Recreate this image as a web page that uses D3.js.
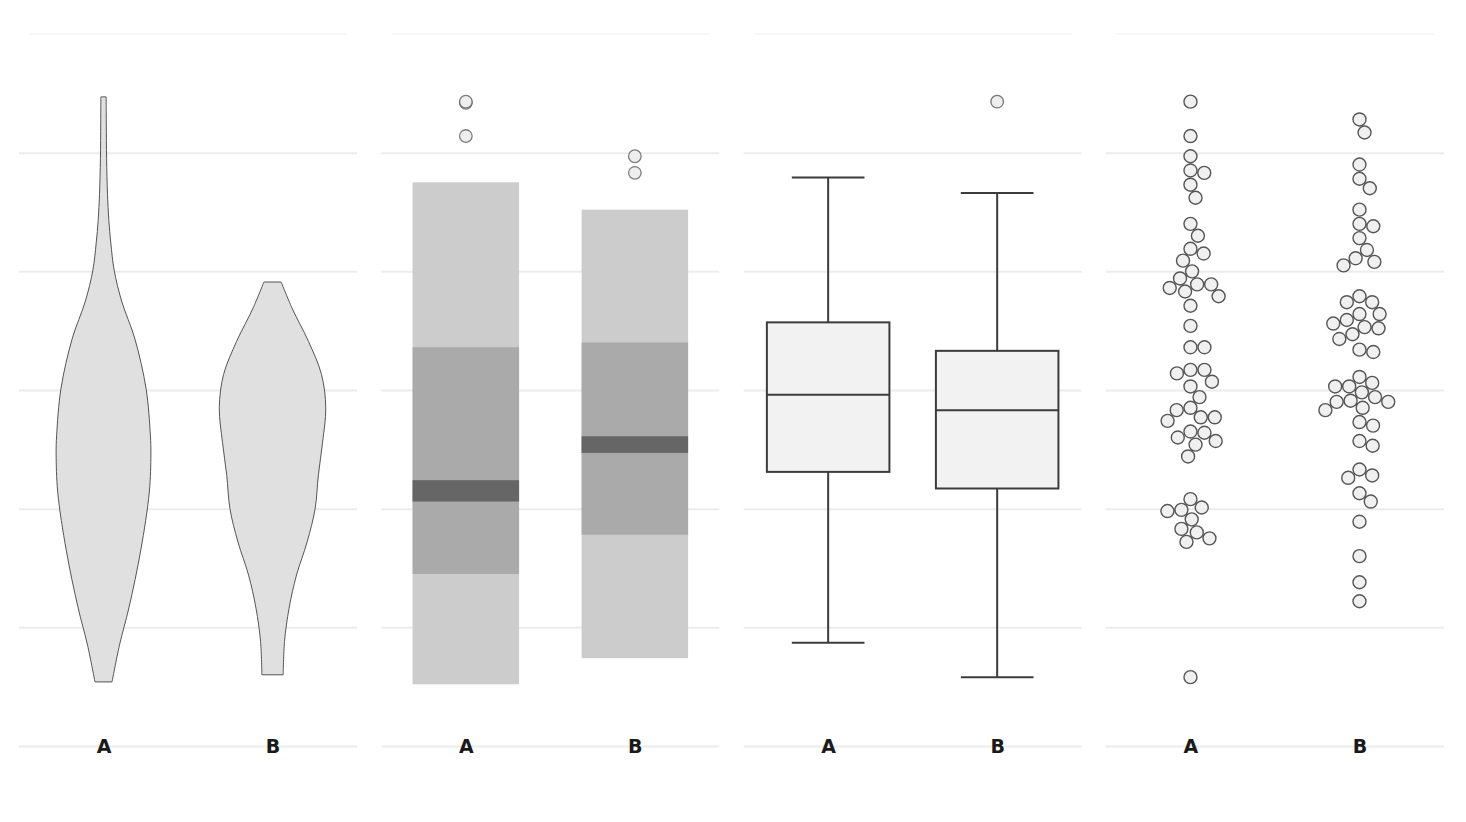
<!DOCTYPE html>
<html>
<head>
<meta charset="utf-8">
<script src="https://cdn.jsdelivr.net/npm/d3@7"></script>
<style>
  body { margin: 0; background: #ffffff; }
  svg { display: block; }
</style>
</head>
<body>
<div class="chart"></div>
<script>
// ************************ DATA ************************

const categories = ["A", "B"]
const gridTicks = [0, 10, 20, 30, 40, 50]
const topTick = 60

// violin: value grid and relative density (half width)
const violinValuesA = [5.4, 8.5, 11.7, 16.5, 21.4, 24.6, 26.2, 30.1, 34.3, 37.5, 40.1, 42.4, 44.3, 46.5, 49.5, 52.5, 54.7]
const violinDensityA = [0.16, 0.30, 0.48, 0.70, 0.86, 0.89, 0.88, 0.80, 0.59, 0.34, 0.20, 0.137, 0.10, 0.075, 0.058, 0.052, 0.05]
const violinValuesB = [6.0, 8.8, 11.6, 14.4, 17.2, 20.0, 22.8, 25.6, 28.5, 31.3, 34.1, 36.9, 39.1]
const violinDensityB = [0.20, 0.225, 0.31, 0.45, 0.65, 0.80, 0.86, 0.94, 1.0, 0.92, 0.675, 0.366, 0.163]

// letter-value boxes [low, high], outer to inner
const lvBoxesA = [[5.2, 47.5], [14.5, 33.6], [20.6, 22.4]]
const lvBoxesB = [[7.4, 45.2], [17.8, 34.0], [24.7, 26.1]]
const lvOutliersA = [54.2, 54.3, 51.4]
const lvOutliersB = [49.7, 48.3]

// box plot [lower whisker, q1, median, q3, upper whisker]
const boxStatsA = [8.7, 23.1, 29.6, 35.7, 47.9]
const boxStatsB = [5.8, 21.7, 28.3, 33.3, 46.6]
const boxOutliersA = []
const boxOutliersB = [54.3]

// swarm values
const swarmA = [54.3, 51.4, 49.7, 48.5, 48.3, 47.3, 46.2, 44.0, 43.0, 41.9, 41.5, 40.9, 40.0, 39.4, 38.9, 38.9,
  38.6, 38.3, 37.9, 37.1, 35.4, 33.6, 33.6, 31.7, 31.4, 31.7, 30.7, 30.3, 29.4, 28.3, 28.5, 27.7, 27.7, 27.4,
  26.5, 26.4, 26.0, 25.7, 25.4, 24.4, 20.8, 20.1, 19.8, 19.9, 19.1, 18.3, 18.0, 17.5, 17.2, 5.8]
const swarmB = [52.8, 51.7, 49.0, 47.8, 47.0, 45.2, 44.0, 43.8, 42.8, 41.8, 41.1, 40.8, 40.5, 37.9, 37.4, 37.4,
  36.4, 36.4, 35.9, 35.3, 35.2, 35.6, 34.7, 34.3, 33.4, 33.2, 31.1, 30.3, 30.6, 29.8, 30.3, 29.4, 29.0, 28.5,
  28.3, 29.0, 29.1, 27.0, 27.3, 25.7, 25.3, 23.3, 22.6, 22.8, 21.3, 20.6, 18.9, 16.0, 13.8, 12.2]

// ************************ LAYOUT ************************

const width = 1466
const height = 822

const svg = d3.select(".chart")
  .append("svg")
  .attr("width", width)
  .attr("height", height)

// y-scale shared by all panels
const y = d3.scaleLinear()
  .domain([0, topTick])
  .range([746, 34])

// one band per panel
const panels = d3.scaleBand()
  .domain([0, 1, 2, 3])
  .range([19, 1444])
  .paddingInner(0.067)

const makeX = (i) => d3.scalePoint()
  .domain(categories)
  .range([panels(i), panels(i) + panels.bandwidth()])
  .padding(0.5)

// gridlines for each panel
const drawFrame = (i) => {
  const x = makeX(i)
  const g = svg.append("g")

  // faint top line
  g.append("line")
    .attr("x1", panels(i) + 10)
    .attr("x2", panels(i) + panels.bandwidth() - 10)
    .attr("y1", y(topTick))
    .attr("y2", y(topTick))
    .attr("stroke", "#f4f4f4")
    .attr("stroke-width", 1.5)

  const grid = d3.axisLeft(y)
    .tickValues(gridTicks)
    .tickSize(-panels.bandwidth())
    .tickFormat("")
  g.append("g")
    .attr("transform", "translate(" + panels(i) + ",0)")
    .call(grid)
    .call((s) => s.select(".domain").remove())
    .selectAll("line")
    .attr("stroke", "#ececec")
    .attr("stroke-width", 2)

  return x
}

// category labels sit on the bottom gridline
const labels = (i, x) => {
  svg.append("g")
    .attr("transform", "translate(0," + y(0) + ")")
    .call(d3.axisBottom(x).tickSize(0).tickPadding(0))
    .call((s) => s.select(".domain").remove())
    .selectAll("text")
    .attr("dy", "0.36em")
    .attr("fill", "#1a1a1a")
    .style("font-family", "'DejaVu Sans', sans-serif")
    .style("font-size", "19px")
    .style("font-weight", "bold")
}

// ************************ PANEL 1: VIOLIN ************************

{
  const x = drawFrame(0)
  const w = d3.scaleLinear().domain([0, 1]).range([0, x.step() * 0.315])
  const violins = [
    [categories[0], violinValuesA, violinDensityA],
    [categories[1], violinValuesB, violinDensityB]
  ]
  violins.forEach(([cat, vals, dens]) => {
    const pts = vals.map((v, i) => [v, dens[i]])
    const area = d3.area()
      .y((d) => y(d[0]))
      .x0((d) => x(cat) - w(d[1]))
      .x1((d) => x(cat) + w(d[1]))
      .curve(d3.curveCatmullRom)
    svg.append("path")
      .datum(pts)
      .attr("d", area)
      .attr("fill", "#e0e0e0")
      .attr("stroke", "#555555")
      .attr("stroke-width", 1)
  })
  labels(0, x)
}

// ************************ PANEL 2: LETTER VALUES ************************

{
  const x = drawFrame(1)
  const bw = x.step() * 0.63
  const shades = ["#cccccc", "#aaaaaa", "#666666"]
  const sets = [
    [categories[0], lvBoxesA, lvOutliersA],
    [categories[1], lvBoxesB, lvOutliersB]
  ]
  sets.forEach(([cat, boxes, outs]) => {
    svg.selectAll(null)
      .data(boxes)
      .enter()
      .append("rect")
      .attr("x", x(cat) - bw / 2)
      .attr("width", bw)
      .attr("y", (d) => y(d[1]))
      .attr("height", (d) => y(d[0]) - y(d[1]))
      .attr("fill", (d, i) => shades[i])
    svg.selectAll(null)
      .data(outs)
      .enter()
      .append("circle")
      .attr("cx", x(cat))
      .attr("cy", (d) => y(d))
      .attr("r", 6.3)
      .attr("fill", "#eeeeee")
      .attr("stroke", "#555555")
      .attr("stroke-opacity", 0.75)
      .attr("stroke-width", 1.3)
  })
  labels(1, x)
}

// ************************ PANEL 3: BOX PLOT ************************

{
  const x = drawFrame(2)
  const bw = x.step() * 0.725
  const cw = x.step() * 0.43
  const sets = [
    [categories[0], boxStatsA, boxOutliersA],
    [categories[1], boxStatsB, boxOutliersB]
  ]
  sets.forEach(([cat, s, outs]) => {
    const g = svg.append("g")
      .attr("stroke", "#3c3c3c")
      .attr("stroke-width", 2)
    // whisker
    g.append("line")
      .attr("x1", x(cat)).attr("x2", x(cat))
      .attr("y1", y(s[0])).attr("y2", y(s[4]))
    // caps
    g.selectAll(null)
      .data([s[0], s[4]])
      .enter()
      .append("line")
      .attr("x1", x(cat) - cw / 2)
      .attr("x2", x(cat) + cw / 2)
      .attr("y1", (d) => y(d))
      .attr("y2", (d) => y(d))
    // box
    g.append("rect")
      .attr("x", x(cat) - bw / 2)
      .attr("width", bw)
      .attr("y", y(s[3]))
      .attr("height", y(s[1]) - y(s[3]))
      .attr("fill", "#f2f2f2")
    // median
    g.append("line")
      .attr("x1", x(cat) - bw / 2)
      .attr("x2", x(cat) + bw / 2)
      .attr("y1", y(s[2]))
      .attr("y2", y(s[2]))
    svg.selectAll(null)
      .data(outs)
      .enter()
      .append("circle")
      .attr("cx", x(cat))
      .attr("cy", (d) => y(d))
      .attr("r", 6.3)
      .attr("fill", "#eeeeee")
      .attr("stroke", "#555555")
      .attr("stroke-opacity", 0.8)
      .attr("stroke-width", 1.3)
  })
  labels(2, x)
}

// ************************ PANEL 4: BEESWARM ************************

// greedy swarm: each point goes to the free offset nearest the centre line
const swarm = (values, r) => {
  const placed = []
  const pts = values.map((v) => ({ v: v, py: y(v) })).sort((a, b) => a.py - b.py)
  pts.forEach((p) => {
    const cands = [0]
    placed.forEach((q) => {
      const dy = p.py - q.py
      if (Math.abs(dy) < 2 * r) {
        const dx = Math.sqrt(4 * r * r - dy * dy)
        cands.push(q.dx + dx + 0.01, q.dx - dx - 0.01)
      }
    })
    cands.sort((a, b) => Math.abs(a) - Math.abs(b))
    for (const c of cands) {
      const ok = placed.every((q) => (q.dx - c) ** 2 + (q.py - p.py) ** 2 >= 4 * r * r - 0.1)
      if (ok) { p.dx = c; break }
    }
    placed.push(p)
  })
  return placed
}

{
  const x = drawFrame(3)
  const sets = [
    [categories[0], swarmA],
    [categories[1], swarmB]
  ]
  sets.forEach(([cat, vals]) => {
    svg.selectAll(null)
      .data(swarm(vals, 7))
      .enter()
      .append("circle")
      .attr("cx", (d) => x(cat) + d.dx)
      .attr("cy", (d) => d.py)
      .attr("r", 6.5)
      .attr("fill", "#eeeeee")
      .attr("fill-opacity", 0.9)
      .attr("stroke", "#3a3a3a")
      .attr("stroke-opacity", 0.85)
      .attr("stroke-width", 1.4)
  })
  labels(3, x)
}
</script>
</body>
</html>
